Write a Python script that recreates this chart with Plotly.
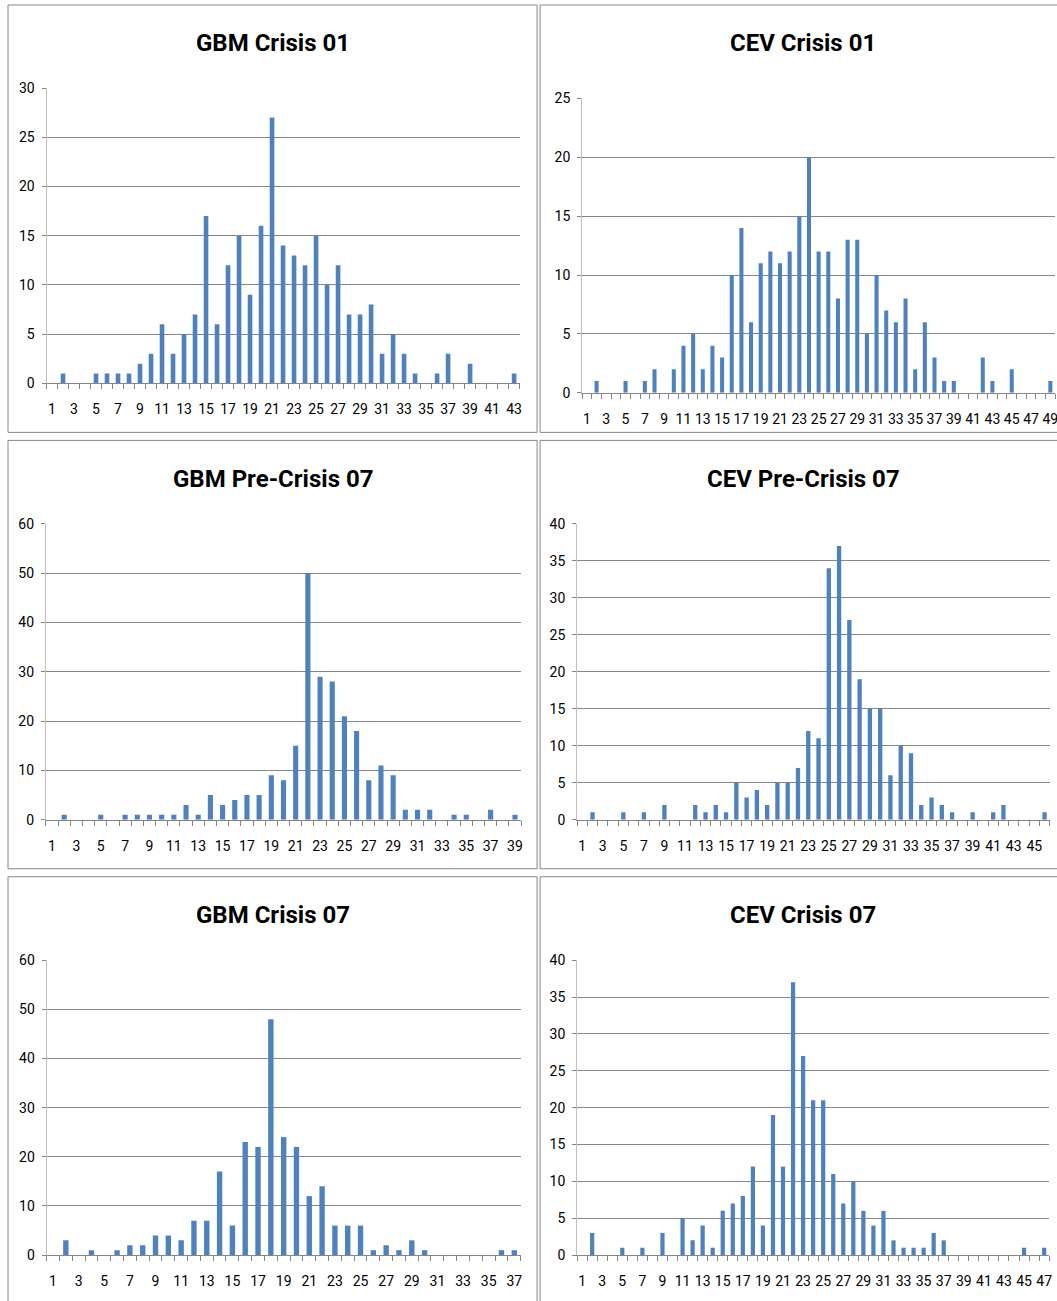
import plotly.graph_objects as go

# ---------------- data ----------------
titles = ["GBM Crisis 01", "CEV Crisis 01", "GBM Pre-Crisis 07",
          "CEV Pre-Crisis 07", "GBM Crisis 07", "CEV Crisis 07"]

gbm_crisis01 = [0, 1, 0, 0, 1, 1, 1, 1, 2, 3, 6, 3, 5, 7, 17, 6, 12, 15, 9, 16, 27,
                14, 13, 12, 15, 10, 12, 7, 7, 8, 3, 5, 3, 1, 0, 1, 3, 0, 2, 0, 0, 0, 1]
cev_crisis01 = [0, 1, 0, 0, 1, 0, 1, 2, 0, 2, 4, 5, 2, 4, 3, 10, 14, 6, 11, 12, 11,
                12, 15, 20, 12, 12, 8, 13, 13, 5, 10, 7, 6, 8, 2, 6, 3, 1, 1, 0, 0,
                3, 1, 0, 2, 0, 0, 0, 1]
gbm_pre07 = [0, 1, 0, 0, 1, 0, 1, 1, 1, 1, 1, 3, 1, 5, 3, 4, 5, 5, 9, 8, 15, 50,
             29, 28, 21, 18, 8, 11, 9, 2, 2, 2, 0, 1, 1, 0, 2, 0, 1]
cev_pre07 = [0, 1, 0, 0, 1, 0, 1, 0, 2, 0, 0, 2, 1, 2, 1, 5, 3, 4, 2, 5, 5, 7, 12,
             11, 34, 37, 27, 19, 15, 15, 6, 10, 9, 2, 3, 2, 1, 0, 1, 0, 1, 2, 0, 0,
             0, 1]
gbm_crisis07 = [0, 3, 0, 1, 0, 1, 2, 2, 4, 4, 3, 7, 7, 17, 6, 23, 22, 48, 24, 22,
                12, 14, 6, 6, 6, 1, 2, 1, 3, 1, 0, 0, 0, 0, 0, 1, 1]
cev_crisis07 = [0, 3, 0, 0, 1, 0, 1, 0, 3, 0, 5, 2, 4, 1, 6, 7, 8, 12, 4, 19, 12,
                37, 27, 21, 21, 11, 7, 10, 6, 4, 6, 2, 1, 1, 1, 3, 2, 0, 0, 0, 0,
                0, 0, 0, 1, 0, 1]

series = [gbm_crisis01, cev_crisis01, gbm_pre07, cev_pre07, gbm_crisis07, cev_crisis07]
y_max = [30, 25, 60, 40, 60, 40]
y_step = [5, 5, 10, 5, 10, 5]

# ---------------- layout geometry (target pixels) ----------------
SX, SY = 0.997, 0.987          # compensation for the page capture scale
W = round(1057 / SX)
H = round(1301 / SY)

def px_x(v):
    return (v / SX) / W

def px_y(v):
    return 1 - (v / SY) / H

# plot areas: (x_left, x_right, y_top, y_bottom) in target pixels
areas = [
    (46.5, 519.5, 88.0, 383.0),
    (582.0, 1055.0, 98.3, 392.5),
    (45.9, 521.0, 523.3, 819.0),
    (577.0, 1049.5, 523.3, 819.0),
    (46.6, 520.6, 959.3, 1254.0),
    (577.0, 1049.0, 959.3, 1254.0),
]
title_pos = [(273, 43), (803, 43), (273, 479), (803, 479), (273, 914), (803, 914)]
boxes = [(8, 537, 5, 432), (540, 1070, 5, 432),
         (8, 537, 440, 868), (540, 1070, 440, 868),
         (8, 537, 876, 1320), (540, 1070, 876, 1320)]

FONT = "Roboto, sans-serif"
BAR = "#4F81BD"
GRID = "#868686"
AXIS = "#BFBFBF"

fig = go.Figure()
layout = dict(
    width=W, height=H, margin=dict(l=0, r=0, t=0, b=0),
    paper_bgcolor="white", plot_bgcolor="white", showlegend=False,
    bargap=0.58, shapes=[], annotations=[],
)

for i, vals in enumerate(series):
    n = len(vals)
    cats = list(range(1, n + 1))
    k = "" if i == 0 else str(i + 1)
    fig.add_trace(go.Bar(x=cats, y=vals, marker=dict(color=BAR, line=dict(width=0)),
                         xaxis="x" + k, yaxis="y" + k))
    xl, xr, yt, yb = areas[i]
    layout["xaxis" + k] = dict(
        domain=[px_x(xl), px_x(xr)], anchor="y" + k, range=[0.5, n + 0.5],
        tickmode="array", tickvals=list(range(1, n + 1, 2)),
        ticktext=[str(v) for v in range(1, n + 1, 2)], tickangle=0,
        ticks="outside", ticklen=13, tickcolor="rgba(0,0,0,0)",
        showgrid=False, zeroline=False, showline=True, linecolor=GRID, linewidth=1,
        tickfont=dict(family=FONT, size=14, color="#000000"),
        minor=dict(tickmode="linear", tick0=0.5, dtick=1, ticks="outside",
                   ticklen=5, tickcolor=GRID, showgrid=False),
        fixedrange=True,
    )
    layout["yaxis" + k] = dict(
        domain=[px_y(yb), px_y(yt)], anchor="x" + k, range=[0, y_max[i]],
        tickmode="linear", tick0=0, dtick=y_step[i],
        ticks="outside", ticklen=4, tickcolor=GRID,
        showgrid=True, gridcolor=GRID, gridwidth=1, zeroline=False,
        showline=True, linecolor=AXIS, linewidth=1,
        tickfont=dict(family=FONT, size=14, color="#000000"),
        ticklabelstandoff=4, fixedrange=True,
    )
    tx, ty = title_pos[i]
    layout["annotations"].append(dict(
        text="<b>" + titles[i] + "</b>", x=px_x(tx), y=px_y(ty), xref="paper",
        yref="paper", xanchor="center", yanchor="middle", showarrow=False,
        font=dict(family=FONT, size=24, color="#000000")))
    bx0, bx1, by0, by1 = boxes[i]
    layout["shapes"].append(dict(
        type="rect", xref="paper", yref="paper", x0=px_x(bx0), x1=px_x(bx1),
        y0=px_y(by1), y1=px_y(by0), line=dict(color=GRID, width=1),
        fillcolor="rgba(0,0,0,0)", layer="below"))

fig.update_layout(**layout)

post = ("var h=document.documentElement,b=document.body;"
        "h.style.margin='0';h.style.padding='0';h.style.overflow='hidden';"
        "b.style.margin='0';b.style.padding='0';b.style.overflow='hidden';"
        "var gd=document.getElementById('{plot_id}');"
        "gd.style.position='fixed';gd.style.left='0px';gd.style.top='-8px';"
        "gd.style.margin='0';")
fig.write_html("out.html", post_script=post,
               config={"displayModeBar": False, "staticPlot": True})
